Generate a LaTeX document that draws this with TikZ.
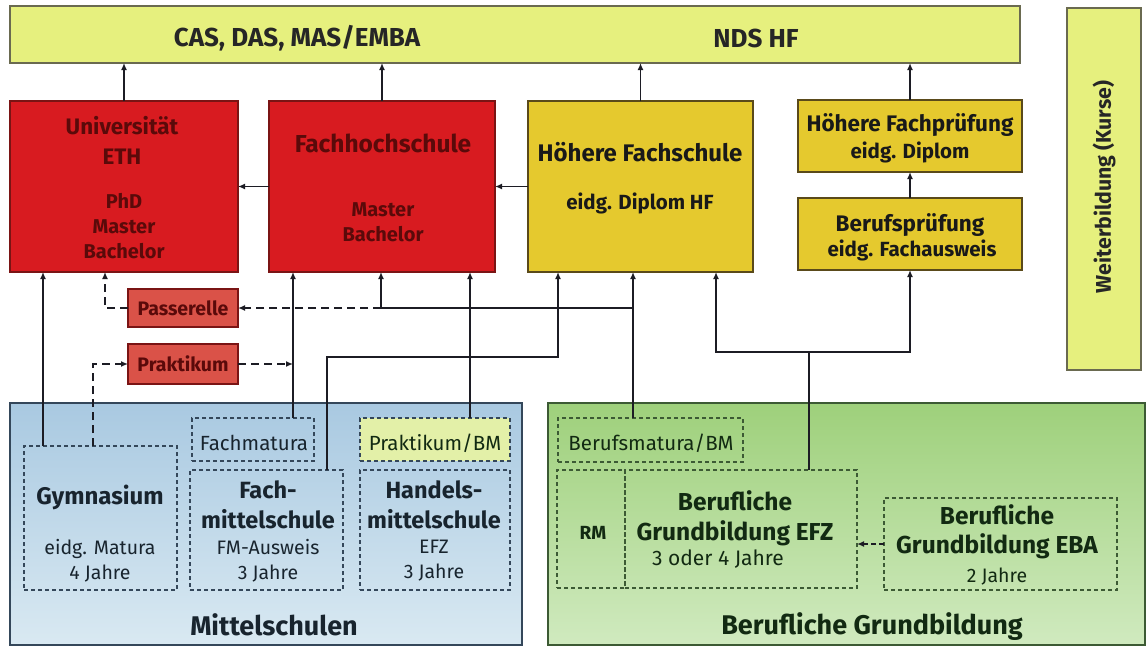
\documentclass[tikz,border=0pt]{standalone}
\usepackage{fontspec}
\setmainfont{Fira Sans}
\usetikzlibrary{arrows.meta}
\definecolor{barc}{HTML}{E6F07E}
\definecolor{bard}{HTML}{6A6A50}
\definecolor{redc}{HTML}{D81B20}
\definecolor{redl}{HTML}{DA5248}
\definecolor{redd}{HTML}{7A1414}
\definecolor{yelc}{HTML}{E5C92E}
\definecolor{yeld}{HTML}{5A4A1A}
\definecolor{bluet}{HTML}{A9C9E1}
\definecolor{blueb}{HTML}{D9E9F2}
\definecolor{blued}{HTML}{34475A}
\definecolor{greent}{HTML}{9ED07B}
\definecolor{greenb}{HTML}{D0EABF}
\definecolor{greend}{HTML}{3C5A34}
\definecolor{pbmc}{HTML}{E3F0A8}
\definecolor{redtxt}{HTML}{5A0A0A}
\definecolor{navy}{HTML}{18242E}
\definecolor{dgreen}{HTML}{122A12}
\definecolor{linec}{HTML}{1C1C24}
\newcommand\myfs[2]{\fontsize{#1}{#2}\selectfont}
\begin{document}
\begin{tikzpicture}[x=1pt,y=-1pt,
  sz/.style 2 args={minimum width=#1pt, minimum height=#2pt, inner sep=0pt, outer sep=0pt},
  barbox/.style={draw=bard, fill=barc, line width=1.4pt},
  redbox/.style={draw=redd, fill=redc, line width=1.8pt},
  redsm/.style={draw=redd, fill=redl, line width=1.8pt},
  yelbox/.style={draw=yeld, fill=yelc, line width=1.8pt},
  bluepanel/.style={draw=blued, line width=1.6pt, top color=bluet, bottom color=blueb},
  greenpanel/.style={draw=greend, line width=1.6pt, top color=greent, bottom color=greenb},
  dbox/.style={draw=#1, line width=1.5pt, dash pattern=on 4pt off 3pt},
  arr/.style={draw=linec, line width=1.8pt, -{Latex[length=7pt,width=6pt]}},
  darr/.style={arr, dash pattern=on 8pt off 5pt},
  txt/.style={align=center, inner sep=0pt, outer sep=0pt},
  bartxt/.style={txt, text=black!85, font=\bfseries\myfs{26}{28}},
  rtitle/.style={txt, text=redtxt, font=\bfseries\myfs{23}{30}},
  rsub/.style={txt, text=redtxt, font=\bfseries\myfs{20}{25}},
  ytitle/.style={txt, text=black!90, font=\bfseries\myfs{22.5}{26}},
  ysub/.style={txt, text=black!90, font=\bfseries\myfs{20.5}{25}},
  stxt/.style={txt, text=redtxt, font=\bfseries\myfs{19.5}{20}},
  btitle/.style={txt, text=#1, font=\bfseries\myfs{23.5}{30}},
  bsub/.style={txt, text=#1, font=\myfs{19.5}{25}},
  bsmall/.style={txt, text=#1, font=\myfs{20.5}{20}},
  blabel/.style={txt, text=#1, font=\bfseries\myfs{27}{30}}
]
\useasboundingbox (0,0) rectangle (1147,649);
\fill[white] (0,0) rectangle (1147,649);

% ---------- top bar and right bar
\node[barbox, sz={1010}{57}] (top) at (515,34.5) {};
\node[bartxt] (topA) at (297,38) {CAS, DAS, MAS/EMBA};
\node[bartxt] (topB) at (756,38) {NDS HF};
\node[barbox, sz={74}{362}] (wb) at (1104,189) {};
\node[bartxt, rotate=90, font=\bfseries\myfs{21.3}{24}] (wbT) at (1104,187) {Weiterbildung (Kurse)};

% ---------- tertiary boxes
\node[redbox, sz={228}{171}] (uni) at (124,186.5) {};
\node[rtitle, font=\bfseries\myfs{22.4}{30}] (uniA) at (122,140) {Universität\\ETH};
\node[rsub] (uniB) at (124,226) {PhD\\Master\\Bachelor};
\node[redbox, sz={226}{171}] (fh) at (382,186.5) {};
\node[rtitle, font=\bfseries\myfs{24.5}{30}] (fhA) at (383,143) {Fachhochschule};
\node[rsub] (fhB) at (383,222) {Master\\Bachelor};
\node[yelbox, sz={225}{171}] (hf) at (640.5,186.5) {};
\node[ytitle, font=\bfseries\myfs{24}{26}] (hfA) at (640,152) {Höhere Fachschule};
\node[ysub] (hfB) at (640,203) {eidg. Diplom HF};
\node[yelbox, sz={224}{72}] (hfp) at (910,136) {};
\node[ytitle] (hfpA) at (910,125) {Höhere Fachprüfung};
\node[ysub] (hfpB) at (910,152) {eidg. Diplom};
\node[yelbox, sz={224}{72}] (bp) at (910,234) {};
\node[ytitle] (bpA) at (910,225) {Berufsprüfung};
\node[ysub] (bpB) at (912,250) {eidg. Fachausweis};
\node[redsm, sz={110}{38}] (pass) at (183,308) {};
\node[stxt] (passT) at (183,308) {Passerelle};
\node[redsm, sz={110}{40}] (prak) at (183,364) {};
\node[stxt] (prakT) at (183,364) {Praktikum};

% ---------- Mittelschulen
\node[bluepanel, sz={512}{242}] (ms) at (266,524) {};
\node[dbox=blued, sz={153}{144}] (gym) at (100.5,518) {};
\node[btitle=navy, font=\bfseries\myfs{24}{30}] (gymA) at (100,497) {Gymnasium};
\node[bsub=navy] (gymB) at (100,561) {eidg. Matura\\4 Jahre};
\node[dbox=blued, sz={122}{43}] (fmat) at (253,439.5) {};
\node[bsmall=navy] (fmatT) at (254,443) {Fachmatura};
\node[dbox=blued, sz={153}{120}] (fms) at (266.5,530) {};
\node[btitle=navy] (fmsA) at (268,505) {Fach-\\mittelschule};
\node[bsub=navy] (fmsB) at (268,561) {FM-Ausweis\\3 Jahre};
\node[dbox=blued, fill=pbmc, sz={150}{43}] (pbm) at (435,439.5) {};
\node[bsmall=dgreen] (pbmT) at (435,443) {Praktikum/BM};
\node[dbox=blued, sz={150}{120}] (hms) at (435,530) {};
\node[btitle=navy] (hmsA) at (434,505) {Handels-\\mittelschule};
\node[bsub=navy] (hmsB) at (434,561) {EFZ\\3 Jahre};
\node[blabel=navy] (msT) at (274,625) {Mittelschulen};

% ---------- Berufliche Grundbildung
\node[greenpanel, sz={597}{242}] (bg) at (846.5,524) {};
\node[dbox=greend, sz={185}{44}] (bms) at (650.5,440) {};
\node[bsmall=dgreen] (bmsT) at (651,443) {Berufsmatura/BM};
\node[dbox=greend, sz={68}{118}] (rm) at (591,529) {};
\node[bsub=dgreen, font=\bfseries\myfs{19}{20}] (rmT) at (593,533) {RM};
\node[dbox=greend, sz={232}{118}] (efz) at (741,529) {};
\node[btitle=dgreen, font=\bfseries\myfs{24.5}{30}] (efzA) at (735,518) {Berufliche\\Grundbildung EFZ};
\node[bsub=dgreen, font=\myfs{21}{25}] (efzB) at (718,559) {3 oder 4 Jahre};
\node[dbox=greend, sz={233}{92}] (eba) at (1000.5,544) {};
\node[btitle=dgreen, font=\bfseries\myfs{24.5}{29}] (ebaA) at (997,532) {Berufliche\\Grundbildung EBA};
\node[bsub=dgreen] (ebaB) at (997,577) {2 Jahre};
\node[blabel=dgreen] (bgT) at (872,627) {Berufliche Grundbildung};

% ---------- helper coordinates
\coordinate (xA) at (43,0);
\coordinate (xB) at (93,0);
\coordinate (xC) at (293,0);
\coordinate (xH) at (105,0);
\coordinate (xI) at (327,0);
\coordinate (xJ) at (470,0);
\coordinate (xL) at (716,0);
\coordinate (j1) at (633,308);
\coordinate (j2) at (381,308);
\coordinate (j3) at (558,357);
\coordinate (j4) at (809,352);

% ---------- connectors
\draw[arr] (uni.north) -- (uni.north |- top.south);
\draw[arr] (fh.north) -- (fh.north |- top.south);
\draw[arr] (hf.north) -- (hf.north |- top.south);
\draw[arr] (hfp.north) -- (hfp.north |- top.south);
\draw[arr] (fh.west) -- (uni.east);
\draw[arr] (hf.west) -- (fh.east);
\draw[arr] (bp.north) -- (hfp.south);
\draw[arr] (gym.north -| xA) -- (uni.south -| xA);
\draw[darr] (gym.north -| xB) |- (prak.west);
\draw[darr] (prak.east) -- (prak.east -| xC);
\draw[arr] (fmat.north -| xC) -- (fh.south -| xC);
\draw[arr] (bms.north -| j1) -- (hf.south -| j1);
\draw[arr] (j1) -| (fh.south -| j2);
\draw[darr] (j2) -- (pass.east);
\draw[darr] (pass.west) -| (uni.south -| xH);
\draw[arr] (fms.north -| xI) |- (j3) -- (hf.south -| j3);
\draw[arr] (pbm.north -| xJ) -- (fh.south -| xJ);
\draw[draw=linec, line width=1.8pt] (efz.north -| j4) -- (j4);
\draw[arr] (j4) -| (hf.south -| xL);
\draw[arr] (j4) -| (bp.south);
\draw[darr, dash pattern=on 5pt off 3pt] (eba.west) -- (eba.west -| efz.east);
\end{tikzpicture}
\end{document}
